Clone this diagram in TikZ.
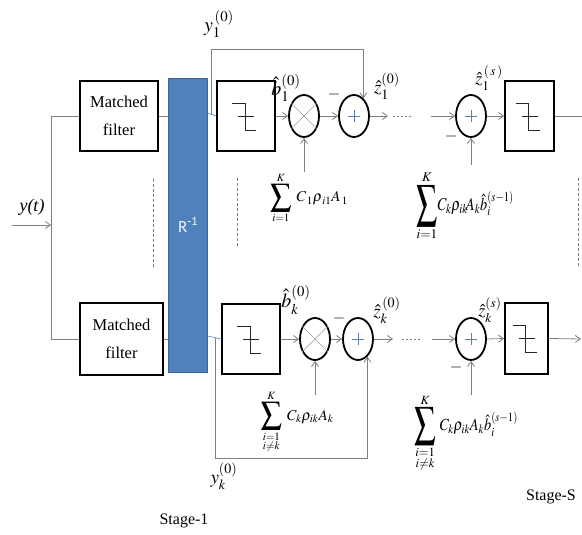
\documentclass[tikz,border=0pt]{standalone}
\usepackage{amsmath}
\usepackage{graphicx}
\usepackage{mathptmx}
\usepackage{fontspec}
\setmainfont{Liberation Serif}
\newfontfamily\carl{Carlito}
\usetikzlibrary{arrows.meta,shapes.geometric,calc}
\definecolor{wgray}{HTML}{7F7F7F}
\definecolor{barfill}{HTML}{4F81BD}
\definecolor{barline}{HTML}{3A6596}
\definecolor{pluscol}{HTML}{5B7FB0}
\newcommand{\bigsum}[2]{\mathop{\vcenter{\hbox{\scalebox{#1}[#2]{$\displaystyle\sum$}}}}\limits}
\begin{document}
\begin{tikzpicture}[x=1pt,y=-1pt,
  wire/.style={draw=wgray, line width=0.8pt},
  arr/.style={wire, -{Straight Barb[length=5pt,width=7pt]}},
  blk/.style={draw=black, line width=1.8pt, fill=white, rectangle, inner sep=0pt},
  ring/.style={draw=black, line width=1.8pt, ellipse, minimum width=30pt, minimum height=42pt, inner sep=0pt},
  lbl/.style={inner sep=0pt},
  stepsym/.pic={\draw[line width=0.8pt, draw=black!85] (-14,-13) -- (-1,-13) -- (-1,14) -- (10,14);
                \draw[line width=0.8pt, draw=black!85] (-8,0) -- (8,0);}
]
\useasboundingbox (0,0) rectangle (582,535);
% blocks
\node[blk, minimum width=78pt, minimum height=70pt, align=center,
      font=\fontsize{16.5}{28}\selectfont] (mf1) at (119,116) {Matched\\filter};
\node[blk, minimum width=83pt, minimum height=72pt, align=center,
      font=\fontsize{16.5}{28}\selectfont] (mf2) at (121.5,339) {Matched\\filter};
\node[draw=barline, fill=barfill, line width=0.8pt, minimum width=39pt, minimum height=294pt,
      inner sep=0pt] (bar) at (187.5,225) {};
\node[lbl, text=white!92!barfill, font=\carl\fontsize{17}{17}\selectfont] (rinv) at (188,225) {R\textsuperscript{-1}};
\node[blk, minimum width=58pt, minimum height=70pt] (dec1) at (246,116) {};
\node[blk, minimum width=58pt, minimum height=70pt] (dec2) at (251,339) {};
\node[blk, minimum width=49pt, minimum height=70pt] (decS1) at (529.5,116) {};
\node[blk, minimum width=43pt, minimum height=71pt] (decS2) at (526.5,338.5) {};
\pic at (dec1.center) {stepsym};
\pic at (dec2.center) {stepsym};
\pic at (decS1.center) {stepsym};
\pic at (decS2.center) {stepsym};
% multipliers and adders
\node[ring] (mul1) at (304,116) {};
\node[ring] (add1) at (354,116) {};
\node[ring] (mul2) at (315,339) {};
\node[ring] (add2) at (358,339) {};
\node[ring] (addS1) at (471,116) {};
\node[ring] (addS2) at (471,339) {};
\foreach \m in {mul1,mul2}{
  \draw[draw=wgray!80, line width=0.5pt] (\m.45) -- (\m.225) (\m.135) -- (\m.315);}
\foreach \a in {add1,add2,addS1,addS2}{
  \draw[draw=pluscol, line width=0.6pt] ($(\a.center)+(-6,0)$) -- ($(\a.center)+(6,0)$)
        ($(\a.center)+(0,-6)$) -- ($(\a.center)+(0,6)$);}
% coordinates
\coordinate (yin) at (12,225);
\coordinate (ysplit) at (51,225);
\coordinate (vt) at (51,116);
\coordinate (vb) at (51,339);
\coordinate (tap1) at (211,115);
\coordinate (tap2) at (215,338);
\coordinate (o1) at (388,116);
\coordinate (o2) at (393,339);
\coordinate (d1a) at (393,116);
\coordinate (d1b) at (412,116);
\coordinate (d2a) at (402,339);
\coordinate (d2b) at (422,339);
\coordinate (i1) at (431,116);
\coordinate (i2) at (432,339);
\coordinate (outT) at (582,116);
\coordinate (outB) at (581,339);
\coordinate (s1) at (304,172);
\coordinate (sS1) at (471,165);
\coordinate (s2) at (315,395);
\coordinate (sS2) at (471,395);
% input
\draw[arr] (yin) -- (ysplit);
\draw[wire] (mf1.west) -- (vt) -- (vb) -- (mf2.west);
\draw[wire] (mf1.east) -- (mf1.east -| bar.west);
\draw[wire] (mf2.east) -- (mf2.east -| bar.west);
\draw[draw=barfill, line width=0.6pt] ($(bar.east)+(0,-112)$) -- (dec1.west);
\draw[draw=barfill, line width=0.6pt] ($(bar.east)+(0,111)$) -- (dec2.west);
% top chain
\draw[arr] (dec1.east) -- (mul1.west);
\draw[arr] (mul1.east) -- (add1.west);
\draw[arr] (add1.east) -- (o1);
\draw[wire, dash pattern=on 2pt off 2pt] (d1a) -- (d1b);
\draw[arr] (i1) -- (addS1.west);
\draw[arr] (addS1.east) -- (decS1.west);
\draw[wire] (decS1.east) -- (outT);
\draw[arr] (s1) -- (mul1.south);
\draw[arr] (sS1) -- (addS1.south);
\draw[arr] (tap1) -- (tap1 |- 0,49) -| (add1.62);
% bottom chain
\draw[arr] (dec2.east) -- (mul2.west);
\draw[arr] (mul2.east) -- (add2.west);
\draw[arr] (add2.east) -- (o2);
\draw[wire, dash pattern=on 2pt off 2pt] (d2a) -- (d2b);
\draw[arr] (i2) -- (addS2.west);
\draw[arr] (addS2.east) -- (decS2.west);
\draw[arr] (decS2.east) -- (outB);
\draw[arr] (s2) -- (mul2.south);
\draw[arr] (sS2) -- (addS2.south);
\draw[arr] (tap2) -- (tap2 |- 0,458) -| (add2.-62);
% dashed separators
\draw[draw=wgray, line width=0.6pt, dash pattern=on 3pt off 2pt] (153,179) -- (153,268);
\draw[draw=wgray, line width=0.6pt, dash pattern=on 3pt off 2pt] (237,178) -- (237,248);
\draw[draw=wgray, line width=0.6pt, dash pattern=on 3pt off 2pt] (578,178) -- (578,268);
% minus signs
\node[lbl, font=\fontsize{16}{16}\selectfont] (m1) at (334,95) {$-$};
\node[lbl, font=\fontsize{16}{16}\selectfont] (m2) at (451,137) {$-$};
\node[lbl, font=\fontsize{16}{16}\selectfont] (m3) at (339,318) {$-$};
\node[lbl, font=\fontsize{16}{16}\selectfont] (m4) at (456,367) {$-$};
% labels
\node[lbl, font=\fontsize{20}{20}\selectfont] (ly1) at (219,24) {$y_1^{\,(0)}$};
\node[lbl, font=\fontsize{19}{19}\selectfont] (lyk) at (224,476) {$y_k^{(0)}$};
\node[lbl, font=\fontsize{18}{18}\selectfont] (lyt) at (32,207) {\textit{y(t)}};
\node[lbl, font=\fontsize{20}{20}\selectfont] (lb1) at (286,88) {$\hat{b}_1^{(0)}$};
\node[lbl, font=\fontsize{20}{20}\selectfont] (lbk) at (296,300) {$\hat{b}_k^{(0)}$};
\node[lbl, font=\fontsize{19}{19}\selectfont] (lz1) at (387,86) {$\hat{z}_1^{(0)}$};
\node[lbl, font=\fontsize{19}{19}\selectfont] (lzk) at (387,310) {$\hat{z}_k^{\,(0)}$};
\node[lbl, font=\fontsize{18}{18}\selectfont] (lzs1) at (489,78) {$\hat{z}_1^{\,(\,s\,)}$};
\node[lbl, font=\fontsize{18}{18}\selectfont] (lzsk) at (490,310) {$\hat{z}_k^{(s)}$};
\node[lbl, font=\fontsize{15}{15}\selectfont] (sum1) at (309,198)
  {$\bigsum{1.4}{1.5}_{i=1}^{K}\; C_{\,1}\rho_{\,i1}A_{\,1}$};
\node[lbl, font=\fontsize{18}{18}\selectfont] (sum2) at (465,206)
  {$\bigsum{1.15}{1.85}_{i=1}^{K}\!\scalebox{0.8}[1]{$C_k\rho_{ik}\!A_k\hat{b}_i^{(s-1)}$}$};
\node[lbl, font=\fontsize{15}{15}\selectfont] (sum3) at (297,422)
  {$\bigsum{1.4}{1.5}_{\substack{i=1\\ i\neq k}}^{K}\; C_{k}\rho_{ik}A_{k}$};
\node[lbl, font=\fontsize{17}{17}\selectfont] (sum4) at (466,433)
  {$\bigsum{1.25}{1.8}_{\substack{i=1\\ i\neq k}}^{K}\,\scalebox{0.85}[1]{$C_{k}\rho_{ik}A_{k}\hat{b}_i^{(s-1)}$}$};
\node[lbl, font=\fontsize{16}{16}\selectfont] (st1) at (184,521) {Stage-1};
\node[lbl, font=\fontsize{16}{16}\selectfont] (stS) at (551,497) {Stage-S};
\end{tikzpicture}
\end{document}
